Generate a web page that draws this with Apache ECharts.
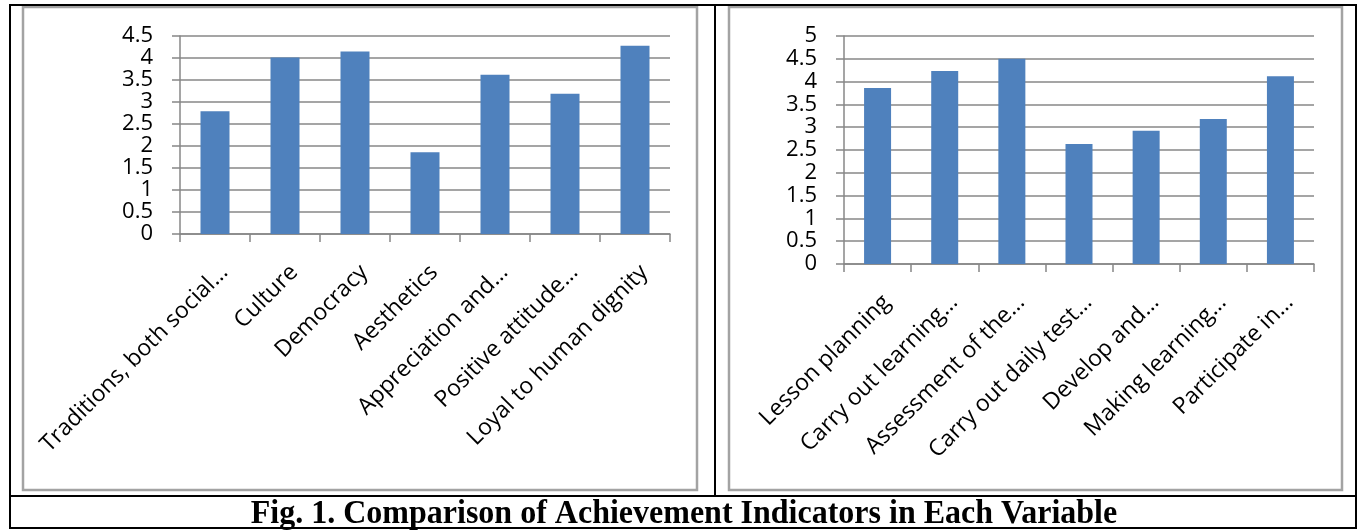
<!DOCTYPE html>
<html><head><meta charset="utf-8">
<script src="https://cdn.jsdelivr.net/npm/echarts@6/dist/echarts.min.js"></script>
<style>html,body{margin:0;padding:0;background:#fff}#c{width:1364px;height:531px}</style>
</head><body><div id="c"></div>
<script>
const leftCategories = ["Traditions, both social…", "Culture", "Democracy", "Aesthetics", "Appreciation and…", "Positive attitude…", "Loyal to human dignity"];
const leftValues = [2.79, 4.01, 4.15, 1.86, 3.62, 3.19, 4.28];
const leftAxisMax = 4.5;
const rightCategories = ["Lesson planning", "Carry out learning…", "Assessment of the…", "Carry out daily test…", "Develop and…", "Making learning…", "Participate in…"];
const rightValues = [3.86, 4.23, 4.50, 2.63, 2.92, 3.18, 4.12];
const rightAxisMax = 5;
const tickStep = 0.5;
const captionText = "Fig. 1. Comparison of Achievement Indicators in Each Variable";

const FONT = '"Open Sans", "DejaVu Sans", sans-serif';
const GRAY = '#878787';
const BAR = '#4F81BD';

function xAxisCfg(idx, data) {
  return {
    type: 'category', gridIndex: idx, data: data,
    axisLine: {lineStyle: {color: GRAY, width: 1.5}},
    axisTick: {show: true, length: 8, lineStyle: {color: GRAY, width: 1.5}},
    axisLabel: {interval: 0, rotate: 45, fontSize: 23, color: '#000', fontFamily: FONT, margin: 44, padding: [0, -13, 0, 0]}
  };
}
function yAxisCfg(idx, max) {
  return {
    type: 'value', gridIndex: idx, min: 0, max: max, interval: tickStep,
    axisLine: {show: true, lineStyle: {color: GRAY, width: 1.5}},
    axisTick: {show: true, length: 8, lineStyle: {color: GRAY, width: 1.5}},
    splitLine: {show: true, lineStyle: {color: GRAY, width: 1.5}},
    axisLabel: {fontSize: 22, color: '#000', fontFamily: FONT, margin: 27}
  };
}

const chart = echarts.init(document.getElementById('c'), null, {renderer: 'canvas'});
chart.setOption({
  animation: false,
  backgroundColor: '#fff',
  grid: [
    {left: 180, top: 36, width: 490, height: 198},
    {left: 844, top: 36, width: 470, height: 228}
  ],
  xAxis: [xAxisCfg(0, leftCategories), xAxisCfg(1, rightCategories)],
  yAxis: [yAxisCfg(0, leftAxisMax), yAxisCfg(1, rightAxisMax)],
  series: [
    {type: 'bar', xAxisIndex: 0, yAxisIndex: 0, data: leftValues, barWidth: 29, itemStyle: {color: BAR}},
    {type: 'bar', xAxisIndex: 1, yAxisIndex: 1, data: rightValues, barWidth: 27, itemStyle: {color: BAR}}
  ],
  graphic: [
    {type: 'rect', shape: {x: 23, y: 7, width: 674, height: 483}, style: {fill: 'none', stroke: '#a3a3a3', lineWidth: 2.5}, z: 100},
    {type: 'rect', shape: {x: 729, y: 7, width: 613, height: 483}, style: {fill: 'none', stroke: '#a3a3a3', lineWidth: 2.5}, z: 100},
    {type: 'rect', shape: {x: 10, y: 5, width: 1346, height: 523}, style: {fill: 'none', stroke: '#000', lineWidth: 2}, z: 101},
    {type: 'line', shape: {x1: 715, y1: 5, x2: 715, y2: 496}, style: {stroke: '#000', lineWidth: 2}, z: 101},
    {type: 'line', shape: {x1: 10, y1: 496, x2: 1356, y2: 496}, style: {stroke: '#000', lineWidth: 2}, z: 101},
    {type: 'text', x: 684, y: 514, scaleY: 1.08, style: {text: captionText, font: 'bold 32px "Liberation Serif", "Times New Roman", serif', fill: '#000', textAlign: 'center', textVerticalAlign: 'middle'}, z: 101}
  ]
});
</script></body></html>
